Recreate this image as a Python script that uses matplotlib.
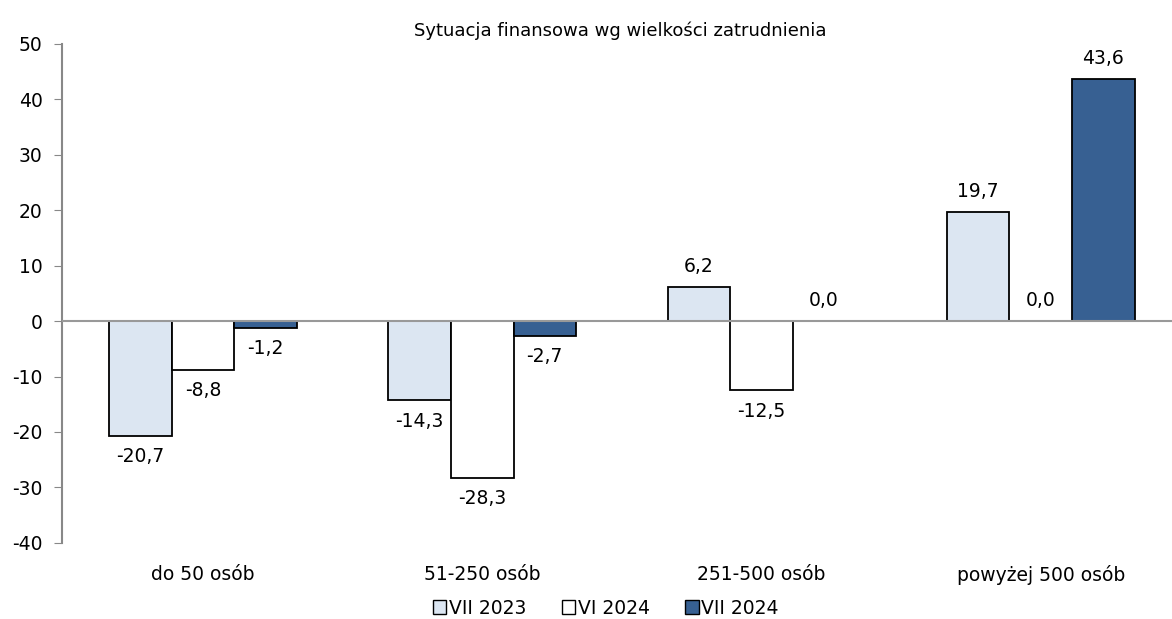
import numpy as np
import matplotlib.pyplot as plt
from matplotlib.patches import Patch

categories = ["do 50 osób", "51-250 osób", "251-500 osób", "powyżej 500 osób"]
series = ["VII 2023", "VI 2024", "VII 2024"]
vii_2023 = [-20.7, -14.3, 6.2, 19.7]
vi_2024 = [-8.8, -28.3, -12.5, 0.0]
vii_2024 = [-1.2, -2.7, 0.0, 43.6]
colors = ["#dce6f2", "#ffffff", "#376092"]

plt.rcParams['font.family'] = ['DejaVu Sans']
plt.rcParams['axes.unicode_minus'] = False
FS = 13.5

fig = plt.figure(figsize=(11.72, 6.19), dpi=100)
ax = fig.add_axes([0.0529, 0.123, 0.953, 0.806])

x = np.arange(len(categories))
w = 0.224
for i, (vals, col) in enumerate(zip([vii_2023, vi_2024, vii_2024], colors)):
    pos = x + (i - 1) * w
    ax.bar(pos, vals, width=w, color=col, edgecolor="black", linewidth=1.3, zorder=3)
    for p, v in zip(pos, vals):
        lbl = f"{v:.1f}".replace(".", ",")
        if v < 0:
            ax.annotate(lbl, (p, v), xytext=(0, -8), textcoords="offset points",
                        ha="center", va="top", fontsize=FS)
        else:
            ax.annotate(lbl, (p, v), xytext=(0, 8), textcoords="offset points",
                        ha="center", va="bottom", fontsize=FS)

ax.set_xlim(-0.505, 3.495)
ax.set_ylim(-40, 50)
ax.set_yticks(range(-40, 51, 10))
ax.set_xticks(x)
ax.set_xticklabels(categories, fontsize=FS)
ax.tick_params(axis="x", length=0, pad=16)
ax.tick_params(axis="y", labelsize=FS, length=6, color="#888888", pad=8)
for s in ["top", "right", "bottom"]:
    ax.spines[s].set_visible(False)
ax.spines["left"].set_color("#888888")
ax.spines["left"].set_linewidth(1.5)
ax.axhline(0, color="#999999", linewidth=1.5, zorder=4)

ax.set_title("Sytuacja finansowa wg wielkości zatrudnienia", fontsize=FS - 0.5, pad=6)

handles = [Patch(facecolor=c, edgecolor="black", linewidth=1) for c in colors]
fig.legend(handles, series, loc="lower center", bbox_to_anchor=(0.517, -0.025), ncol=3,
           frameon=False, fontsize=FS, handlelength=0.7, handleheight=0.7,
           handletextpad=0.15, columnspacing=1.9)

fig.savefig("out.png", dpi=100)
